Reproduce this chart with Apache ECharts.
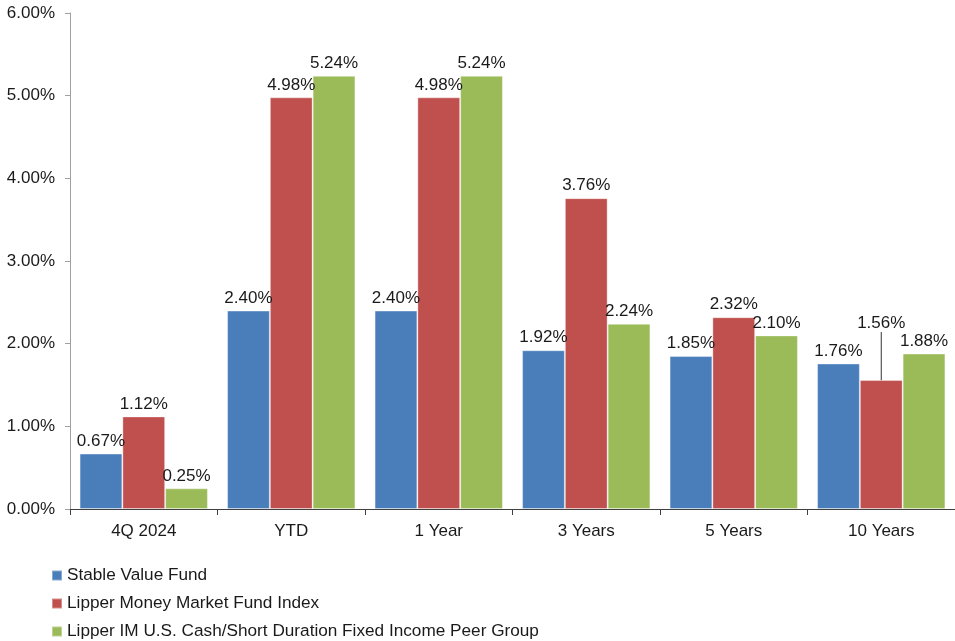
<!DOCTYPE html>
<html>
<head>
<meta charset="utf-8">
<script src="https://cdn.jsdelivr.net/npm/echarts@6/dist/echarts.min.js"></script>
<style>
    html, body { margin: 0; padding: 0; background: #fff; }
    #chart { width: 955px; height: 641px; }
</style>
</head>
<body>
<div id="chart"></div>
<script>
    var categories = ['4Q 2024', 'YTD', '1 Year', '3 Years', '5 Years', '10 Years'];
    var stableValue = [0.67, 2.40, 2.40, 1.92, 1.85, 1.76];
    var moneyMarket = [1.12, 4.98, 4.98, 3.76, 2.32, 1.56];
    var peerGroup = [0.25, 5.24, 5.24, 2.24, 2.10, 1.88];
    var seriesNames = [
        'Stable Value Fund',
        'Lipper Money Market Fund Index',
        'Lipper IM U.S. Cash/Short Duration Fixed Income Peer Group'
    ];
    var colors = ['#4a7ebb', '#c0504d', '#9bbb59'];

    var font = 'Liberation Sans, Arial, sans-serif';

    function barSeries(name, data, color) {
        return {
            name: name,
            type: 'bar',
            data: data,
            barGap: '0%',
            barCategoryGap: '13%',
            itemStyle: { color: color, borderColor: 'rgba(255,255,255,0.35)', borderWidth: 1 },
            labelLine: { show: false, lineStyle: { color: '#333', width: 1 } },
            label: {
                show: true,
                position: 'top',
                distance: 4,
                color: '#1a1a1a',
                fontSize: 17,
                fontFamily: font,
                formatter: function (p) { return p.value.toFixed(2) + '%'; }
            }
        };
    }

    // the 10 Years money market label sits higher with a leader line
    var moneyMarketItems = moneyMarket.map(function (v, i) {
        return i === 5 ? { value: v, labelLine: { show: true } } : v;
    });

    var series = [
        barSeries(seriesNames[0], stableValue, colors[0]),
        barSeries(seriesNames[1], moneyMarketItems, colors[1]),
        barSeries(seriesNames[2], peerGroup, colors[2])
    ];
    series[1].labelLayout = function (p) {
        if (p.dataIndex === 5) return { dy: -44 };
        return {};
    };

    var chart = echarts.init(document.getElementById('chart'));
    chart.setOption({
        animation: false,
        color: colors,
        grid: { left: 70, right: 0, top: 13, bottom: 132 },
        legend: {
            orient: 'vertical',
            left: 51,
            top: 567,
            height: 100,
            padding: 0,
            icon: 'rect',
            itemWidth: 10,
            itemHeight: 10,
            itemGap: 11,
            textStyle: { fontSize: 17.2, color: '#1a1a1a', fontFamily: font },
            data: seriesNames
        },
        xAxis: {
            type: 'category',
            data: categories,
            axisLine: { lineStyle: { color: '#404040', width: 1 } },
            axisTick: { show: true, length: 6, lineStyle: { color: '#404040' } },
            axisLabel: { fontSize: 17, color: '#1a1a1a', fontFamily: font, margin: 14 }
        },
        yAxis: {
            type: 'value',
            min: 0,
            max: 6,
            interval: 1,
            splitLine: { show: false },
            axisLine: { show: true, lineStyle: { color: '#a0a0a0' } },
            axisTick: { show: true, length: 5, lineStyle: { color: '#a0a0a0' } },
            axisLabel: {
                fontSize: 17,
                color: '#1a1a1a',
                fontFamily: font,
                margin: 15,
                formatter: function (v) { return v.toFixed(2) + '%'; }
            }
        },
        series: series
    });
</script>
</body>
</html>
